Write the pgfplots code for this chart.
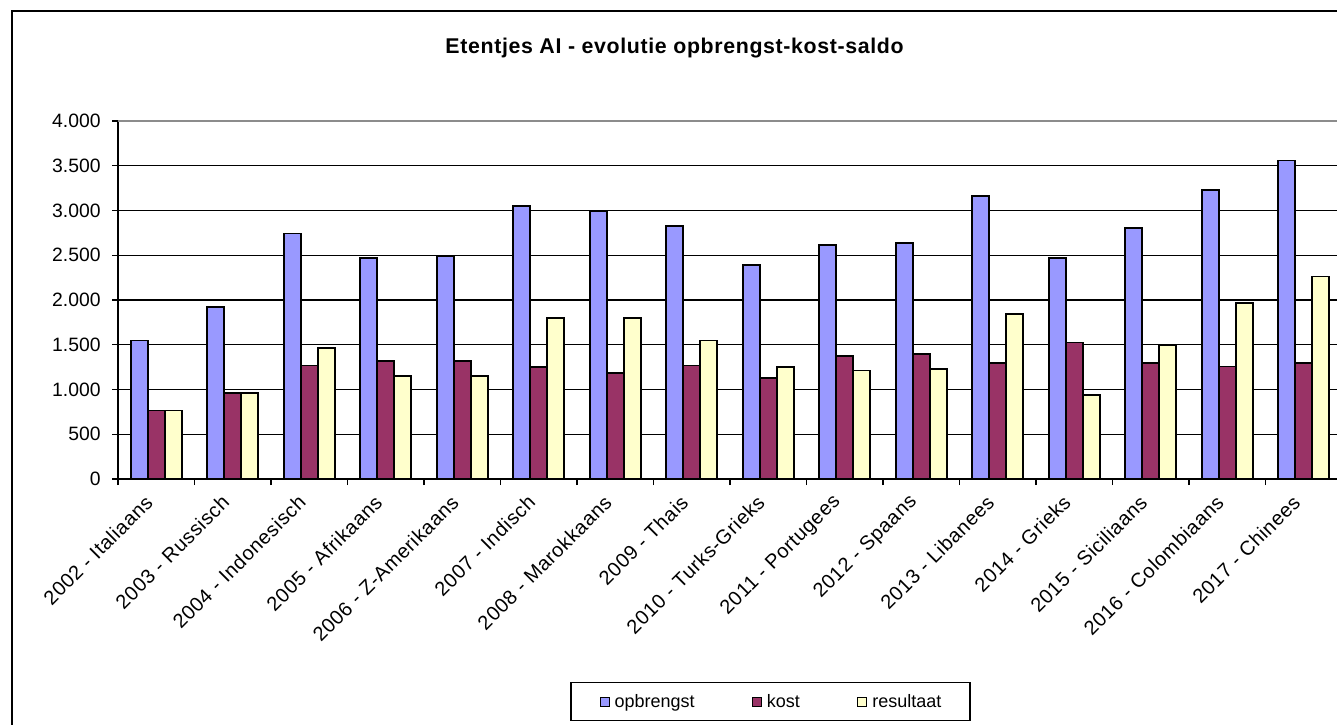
\documentclass[border=0pt]{standalone}
\usepackage{fontspec}
\setmainfont{Liberation Sans}
\newfontfamily\titlefont[LetterSpace=3]{Liberation Sans}
\newfontfamily\labfont[LetterSpace=3]{Liberation Sans}
\usepackage{pgfplots}
\usepackage{pgfplotstable}
\pgfplotsset{compat=1.18}
\definecolor{opb}{HTML}{9999FF}
\definecolor{kst}{HTML}{993366}
\definecolor{res}{HTML}{FFFFCC}
\definecolor{plotborder}{HTML}{8C8C8C}

\pgfplotstableread{
x opb kost res
0 1548 765 765
1 1921 959 959
2 2742 1268 1462
3 2469 1317 1149
4 2492 1317 1149
5 3051 1250 1798
6 2988 1186 1798
7 2827 1268 1548
8 2387 1126 1250
9 2615 1376 1212
10 2637 1395 1231
11 3159 1294 1843
12 2469 1526 936
13 2805 1294 1500
14 3226 1257 1966
15 3558 1294 2264
}\data

\begin{document}
\begin{tikzpicture}
\path[use as bounding box] (0pt,0pt) rectangle (1002.75pt,543pt);
\clip (0pt,0pt) rectangle (1002.75pt,543pt);
\draw[line width=1.2pt, black] (9pt,534.75pt) rectangle (1020pt,-15pt);
\begin{axis}[
  at={(88.5pt,183.75pt)}, anchor=south west,
  scale only axis, width=918pt, height=268.5pt,
  xmin=-0.5, xmax=15.5, ymin=0, ymax=4000,
  enlargelimits=false,
  axis lines=left,
  axis line style={-, black, line width=1.4pt},
  tick align=outside,
  major tick length=4.5pt,
  tick style={black, line width=1.1pt},
  ytick={0,500,...,3500},
  extra y ticks={4000},
  extra y tick style={major grid style={color=plotborder, line width=1.4pt}},
  ymajorgrids,
  major grid style={black, line width=1.1pt},
  xtick={-0.5,0.5,...,15.5},
  x tick label as interval,
  xticklabels={2002 - Italiaans,2003 - Russisch,2004 - Indonesisch,2005 - Afrikaans,2006 - Z-Amerikaans,2007 - Indisch,2008 - Marokkaans,2009 - Thais,2010 - Turks-Grieks,2011 - Portugees,2012 - Spaans,2013 - Libanees,2014 - Grieks,2015 - Siciliaans,2016 - Colombiaans,2017 - Chinees},
  xticklabel style={font=\labfont\fontsize{15}{18}\selectfont, xshift=-3pt, yshift=-8pt, rotate=45, anchor=east},
  yticklabel style={font=\fontsize{14.5}{17}\selectfont, xshift=-5pt},
  /pgf/number format/1000 sep={.},
  /pgf/number format/assume math mode=true,
  title={Etentjes AI - evolutie opbrengst-kost-saldo},
  title style={font=\titlefont\bfseries\fontsize{16}{19}\selectfont, at={(0.4547,1.167)}, anchor=base},
  legend columns=3,
  legend image code/.code={\draw[#1, line width=0.7pt] (0pt,-3.375pt) rectangle (6.75pt,3.375pt);},
  legend style={at={(0.5331,-0.567)}, anchor=north, draw=black, line width=1.1pt,
    font=\fontsize{13.5}{16}\selectfont, inner xsep=21.5pt, inner ysep=8.6pt,
    nodes={inner sep=0pt},
    /tikz/every odd column/.append style={column sep=3.75pt},
    /tikz/every even column/.append style={column sep=43pt}},
]
\addplot[ybar, bar width=0.2222, bar shift=-0.2222, fill=opb, draw=black, line width=1.3pt] table[x=x,y=opb]{\data};
\addplot[ybar, bar width=0.2222, bar shift=0, fill=kst, draw=black, line width=1.3pt] table[x=x,y=kost]{\data};
\addplot[ybar, bar width=0.2222, bar shift=0.2222, fill=res, draw=black, line width=1.3pt] table[x=x,y=res]{\data};
\legend{opbrengst,kost,resultaat}
\end{axis}
\end{tikzpicture}
\end{document}
